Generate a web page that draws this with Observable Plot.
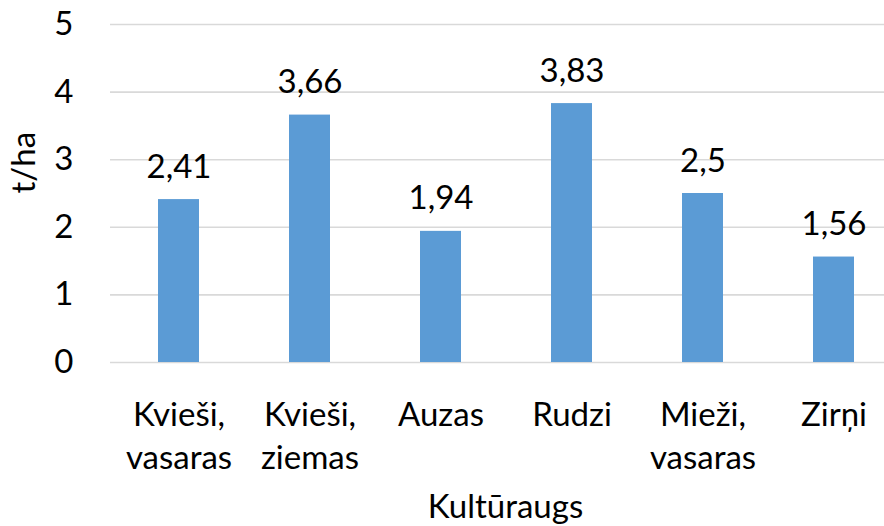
<!DOCTYPE html>
<html>
<head>
<meta charset="utf-8">
<script src="https://cdn.jsdelivr.net/npm/d3@7"></script>
<script src="https://cdn.jsdelivr.net/npm/@observablehq/plot@0.6"></script>
<style>
  html, body { margin: 0; padding: 0; background: #fff; }
  #chart { width: 884px; height: 526px; overflow: hidden; }
</style>
</head>
<body>
<div id="chart"></div>
<script>
const categories = ["Kvieši,\nvasaras", "Kvieši,\nziemas", "Auzas", "Rudzi", "Mieži,\nvasaras", "Zirņi"];
const values = [2.41, 3.66, 1.94, 3.83, 2.5, 1.56];
const yTicks = [0, 1, 2, 3, 4, 5];
const yLabel = "t/ha";
const xLabel = "Kultūraugs";

const data = categories.map((c, i) => ({cat: c, val: values[i], label: String(values[i]).replace(".", ",")}));

const fmt = d => String(d);

const chart = Plot.plot({
  width: 884,
  height: 526,
  marginLeft: 110,
  marginRight: 0,
  marginTop: 24,
  marginBottom: 164,
  style: {fontFamily: "Lato, sans-serif", fontSize: "32px", color: "#000", background: "#fff"},
  x: {domain: categories, range: [110, 901], paddingInner: 0.69, paddingOuter: 0.345, axis: null},
  y: {domain: [0, 5], axis: null},
  marks: [
    Plot.gridY(yTicks, {stroke: "#d9d9d9", strokeOpacity: 1, strokeWidth: 1.6}),
    Plot.barY(data, {x: "cat", y: "val", fill: "#5b9bd5"}),
    Plot.text(data, {x: "cat", y: "val", text: "label", lineAnchor: "bottom", dy: -22, fill: "#000", fontSize: 33}),
    Plot.axisY({ticks: yTicks, tickSize: 0, tickPadding: 37, label: null, fontSize: 33, tickFormat: fmt}),
    Plot.text(data, {x: "cat", y: () => 0, text: "cat", lineAnchor: "top", dy: 33, lineHeight: 1.3, fill: "#000", fontSize: 33}),
    Plot.text([yLabel], {frameAnchor: "left", dx: -86, rotate: -90, fill: "#000", fontSize: 33}),
    Plot.text([xLabel], {frameAnchor: "bottom", lineAnchor: "bottom", dx: 8, dy: 155, fill: "#000", fontSize: 33})
  ]
});
document.getElementById("chart").appendChild(chart);
</script>
</body>
</html>
